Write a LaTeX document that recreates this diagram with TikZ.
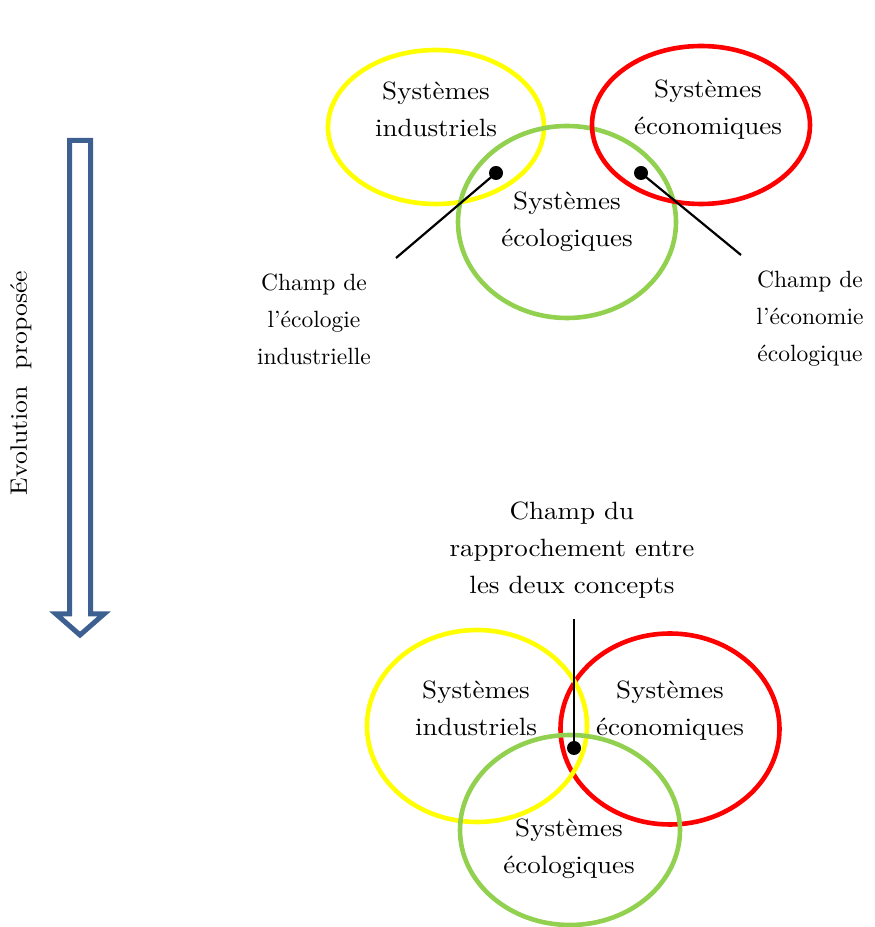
\documentclass[tikz,border=0pt]{standalone}
\usepackage{fontspec}
\setmainfont{lmroman10-regular.otf}[FakeStretch=1.08]
\newfontfamily\plainlm{lmroman10-regular.otf}
\usetikzlibrary{shapes.geometric}
\definecolor{ringyellow}{HTML}{FFFF00}
\definecolor{ringred}{HTML}{FF0000}
\definecolor{ringgreen}{HTML}{92D050}
\definecolor{arrowblue}{HTML}{3C6090}
\begin{document}
\begin{tikzpicture}[x=1pt,y=1pt,
  ring/.style={ellipse, draw, line width=4.6pt, inner sep=0pt},
  lbl/.style={align=center, font=\fontsize{25}{37}\selectfont, inner sep=0pt},
  sidelbl/.style={align=center, font=\plainlm\fontsize{23.5}{37}\selectfont, inner sep=0pt},
  evolbl/.style={font=\fontsize{23.8}{28}\selectfont, inner sep=0pt, rotate=90},
  dotn/.style={circle, fill=black, minimum size=14pt, inner sep=0pt},
  conn/.style={line width=2.2pt}]
\useasboundingbox (0,0) rectangle (875,927);

% evolution arrow
\draw[arrowblue, line width=5pt, line join=miter]
  (69.5,786.5) -- (90.5,786.5) -- (90.5,313) -- (104,313) -- (80,292)
  -- (56,313) -- (69.5,313) -- cycle;
\node[evolbl] (evo) at (21,544) {Evolution\ \ proposée};

% top diagram
\node[ring, draw=ringyellow, minimum width=216pt, minimum height=154pt] (tY) at (436,800) {};
\node[ring, draw=ringgreen, minimum width=218pt, minimum height=192pt] (tG) at (567,705) {};
\node[ring, draw=ringred, minimum width=218pt, minimum height=158pt] (tR) at (701,802) {};

\node[lbl] (tYt) at (436,817.5) {Systèmes\\industriels};
\node[lbl] (tRt) at (708,817.5) {Systèmes\\économiques};
\node[lbl] (tGt) at (567,705.5) {Systèmes\\écologiques};

\node[sidelbl] (lblL) at (314,608) {Champ de\\l’écologie\\industrielle};
\node[sidelbl] (lblR) at (810,608) {Champ de\\l’économie\\écologique};

\coordinate (endL) at (396,669);
\coordinate (endR) at (741,672);
\node[dotn] (dotL) at (496,754) {};
\node[dotn] (dotR) at (641,754) {};
\draw[conn] (dotL.center) -- (endL);
\draw[conn] (dotR.center) -- (endR);

% bottom diagram
\node[ring, draw=ringred, minimum width=219pt, minimum height=191pt] (bR) at (670,198) {};
\node[ring, draw=ringyellow, minimum width=220pt, minimum height=192pt] (bY) at (477,201) {};
\node[ring, draw=ringgreen, minimum width=220pt, minimum height=190pt] (bG) at (570,97) {};

\node[lbl] (bYt) at (476,218.5) {Systèmes\\industriels};
\node[lbl] (bRt) at (670,216) {Systèmes\\économiques};
\node[lbl] (bGt) at (569,78) {Systèmes\\écologiques};

\node[lbl] (lblB) at (572,377) {Champ du\\rapprochement entre\\les deux concepts};

\coordinate (endB) at (574,308);
\node[dotn] (dotB) at (574,179) {};
\draw[conn] (dotB.center) -- (endB);
\end{tikzpicture}
\end{document}
